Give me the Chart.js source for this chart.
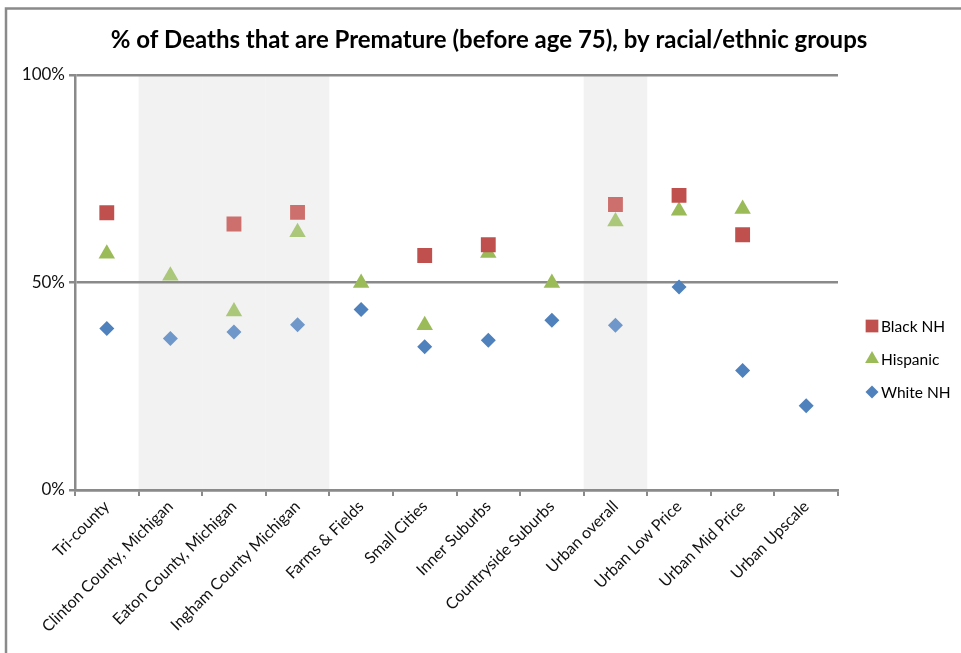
<!DOCTYPE html>
<html>
<head>
<meta charset="utf-8">
<script src="https://cdn.jsdelivr.net/npm/chart.js@4.4.0/dist/chart.umd.min.js"></script>
<style>
  html, body { margin: 0; padding: 0; background: #fff; }
  #wrap { width: 961px; height: 653px; }
</style>
</head>
<body>
<div id="wrap"><canvas id="chart"></canvas></div>
<script>
"use strict"

// categorie sull'asse x
const categories = [
    "Tri-county", "Clinton County, Michigan", "Eaton County, Michigan", "Ingham County Michigan",
    "Farms & Fields", "Small Cities", "Inner Suburbs", "Countryside Suburbs",
    "Urban overall", "Urban Low Price", "Urban Mid Price", "Urban Upscale"
];

// valori in percentuale (null = nessun dato)
const blackNH  = [66.8, null, 64.1, 66.9, null, 56.5, 59.1, null, 68.8, 71.0, 61.5, null];
const hispanic = [56.9, 51.6, 43.0, 62.1, 49.9, 39.7, 57.1, 49.9, 64.7, 67.3, 67.7, null];
const whiteNH  = [38.9, 36.5, 38.1, 39.8, 43.5, 34.5, 36.1, 40.9, 39.7, 48.9, 28.8, 20.3];

const yTicks = [0, 50, 100];

// colonne evidenziate in grigio
const shadedCols = [1, 2, 3, 8];

const seriesNames = ["Black NH", "Hispanic", "White NH"];

window.onload = function () {

    const canvas = document.getElementById("chart");

    let pointColors = function (dark, light) {
        return categories.map((c, i) => shadedCols.includes(i) ? light : dark);
    };

    const redDark = '#c0504d', redLight = '#cd6f6c';
    const greenDark = '#9bbb59', greenLight = '#aac77a';
    const blueDark = '#4f81bd', blueLight = '#6f97ca';

    // sfondo grigio delle colonne + cornice, titolo e legenda
    const bandsPlugin = {
        id: 'bands',
        beforeDraw(chart) {
            const ctx = chart.ctx;
            const x = chart.scales.x;
            const area = chart.chartArea;
            const step = x.getPixelForValue(1) - x.getPixelForValue(0);
            ctx.save();
            ctx.fillStyle = '#f2f2f2';
            shadedCols.forEach(i => {
                const cx = x.getPixelForValue(i);
                ctx.fillRect(cx - step / 2, area.top, step, area.bottom - area.top);
            });
            ctx.strokeStyle = '#8a8a8a';
            ctx.lineWidth = 2.5;
            ctx.beginPath();
            ctx.moveTo(6, 653);
            ctx.lineTo(6, 8.5);
            ctx.lineTo(961, 8.5);
            ctx.stroke();
            ctx.restore();
        },
        afterDraw(chart) {
            const ctx = chart.ctx;
            ctx.save();
            // titolo
            ctx.fillStyle = '#000';
            ctx.font = 'bold 24px Lato';
            ctx.textAlign = 'center';
            ctx.textBaseline = 'middle';
            ctx.fillText("% of Deaths that are Premature (before age 75), by racial/ethnic groups", 489, 40);

            // legenda
            ctx.textAlign = 'left';
            ctx.font = '15.5px Lato';
            const ys = [326, 359, 392];
            const sizes = [9, 8, 6.5];
            const cols = [redDark, greenDark, blueDark];
            chart.data.datasets.forEach((ds, k) => {
                ctx.fillStyle = cols[k];
                ctx.strokeStyle = 'rgba(0,0,0,0)';
                ctx.lineWidth = 0;
                Chart.helpers.drawPoint(ctx, { pointStyle: ds.pointStyle, radius: sizes[k], rotation: 0, borderWidth: 0 }, 872, ys[k]);
                ctx.fillStyle = '#000';
                ctx.fillText(seriesNames[k], 881, ys[k] + 1);
            });
            ctx.restore();
        }
    };

    new Chart(canvas, {
        type: 'line',
        data: {
            labels: categories,
            datasets: [{
                label: seriesNames[0],
                data: blackNH,
                showLine: false,
                pointStyle: 'rect',
                pointRadius: 10.5,
                pointHoverRadius: 10.5,
                pointBorderWidth: 0,
                pointBackgroundColor: pointColors(redDark, redLight),
                pointBorderColor: 'rgba(0,0,0,0)'
            }, {
                label: seriesNames[1],
                data: hispanic,
                showLine: false,
                pointStyle: 'triangle',
                pointRadius: 9.5,
                pointHoverRadius: 9.5,
                pointBorderWidth: 0,
                pointBackgroundColor: pointColors(greenDark, greenLight),
                pointBorderColor: 'rgba(0,0,0,0)'
            }, {
                label: seriesNames[2],
                data: whiteNH,
                showLine: false,
                pointStyle: 'rectRot',
                pointRadius: 7.5,
                pointHoverRadius: 7.5,
                pointBorderWidth: 0,
                pointBackgroundColor: pointColors(blueDark, blueLight),
                pointBorderColor: 'rgba(0,0,0,0)'
            }]
        },
        options: {
            responsive: true,
            maintainAspectRatio: false,
            animation: false,
            layout: { padding: { top: 75, right: 123, left: 0, bottom: 0 } },
            plugins: {
                legend: { display: false },
                title: { display: false },
                tooltip: { enabled: false }
            },
            scales: {
                x: {
                    type: 'category',
                    offset: true,
                    grid: {
                        offset: true,
                        drawOnChartArea: false,
                        drawTicks: true,
                        tickLength: 6,
                        color: '#8a8a8a',
                        lineWidth: 2
                    },
                    border: { display: true, color: '#8a8a8a', width: 2.5 },
                    ticks: {
                        autoSkip: false,
                        maxRotation: 45,
                        minRotation: 45,
                        color: '#111',
                        font: { family: 'Lato', size: 16 },
                        padding: 1
                    },
                    afterFit(scale) { scale.height = 163; }
                },
                y: {
                    min: 0,
                    max: 100,
                    afterBuildTicks(scale) {
                        scale.ticks = yTicks.map(v => ({ value: v }));
                    },
                    grid: {
                        color: '#8a8a8a',
                        lineWidth: 2.5,
                        tickLength: 6
                    },
                    border: { display: true, color: '#8a8a8a', width: 2.5 },
                    ticks: {
                        color: '#111',
                        font: { family: 'Lato', size: 17 },
                        padding: 4,
                        callback: v => v + '%'
                    },
                    afterFit(scale) { scale.width = 75; }
                }
            }
        },
        plugins: [bandsPlugin]
    });
}
</script>
</body>
</html>
